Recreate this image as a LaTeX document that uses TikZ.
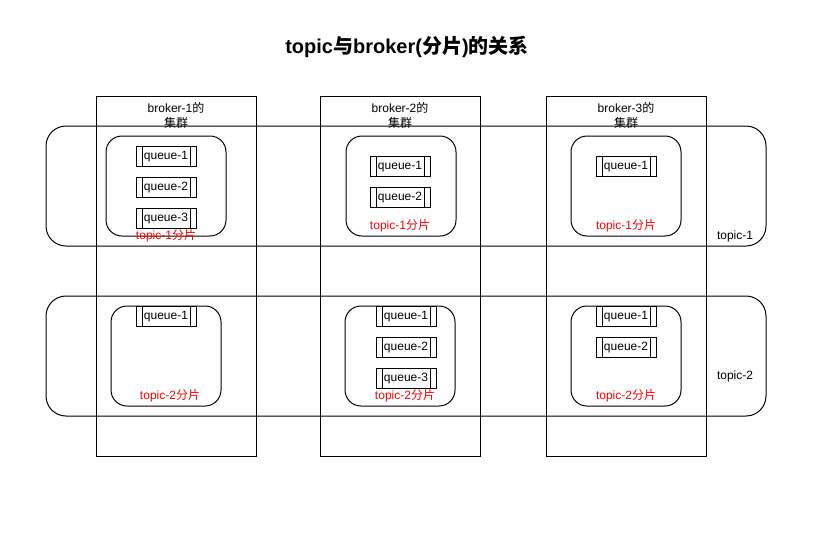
\documentclass[tikz,border=0pt]{standalone}
\usepackage{fontspec}
\setmainfont{Liberation Sans}
\newfontfamily\cjk{Noto Sans CJK SC}
\usetikzlibrary{positioning}
\newcommand{\zh}[1]{{\cjk #1}}
\definecolor{shardred}{rgb}{1,0,0}

\begin{document}
\begin{tikzpicture}[x=1pt, y=-1pt, line width=1pt,
    every node/.style={font=\fontsize{12}{15}\selectfont, inner sep=0pt},
    brokerbox/.style={draw, minimum width=160pt, minimum height=360pt},
    topicbox/.style={draw, rounded corners=20pt, minimum width=720pt, minimum height=120pt},
    shardbox/.style={draw, rounded corners=16pt, minimum width=110pt, minimum height=100pt},
    queuebox/.style={draw, fill=white, minimum width=60pt, minimum height=20pt, text height=9pt, text depth=2pt,
      path picture={
        \draw ([xshift=6pt]path picture bounding box.north west) -- ([xshift=6pt]path picture bounding box.south west);
        \draw ([xshift=-6pt]path picture bounding box.north east) -- ([xshift=-6pt]path picture bounding box.south east);}},
    shardlbl/.style={text=shardred}]

      \useasboundingbox (0,0) rectangle (813,533);

      \node [font=\fontsize{20}{24}\selectfont\bfseries] at (407,47) (title) {topic\zh{与}broker(\zh{分片})\zh{的关系}};

      % topics and brokers
      \node [topicbox] at (406,186) (t1) {};
      \node [topicbox] at (406,356) (t2) {};
      \node [] at (735,236) (t1lbl) {topic-1};
      \node [] at (735,376) (t2lbl) {topic-2};

      \node [brokerbox] at (176,276) (b1) {};
      \node [brokerbox] at (400,276) (b2) {};
      \node [brokerbox] at (626,276) (b3) {};
      \node [align=center, below=6pt of b1.north] (b1lbl) {broker-1\zh{的}\\\zh{集群}};
      \node [align=center, below=6pt of b2.north] (b2lbl) {broker-2\zh{的}\\\zh{集群}};
      \node [align=center, below=6pt of b3.north] (b3lbl) {broker-3\zh{的}\\\zh{集群}};

      % topic-1 shards
      \node [shardbox, minimum width=120pt] at (166,186) (s11) {};
      \node [shardbox] at (401,186) (s21) {};
      \node [shardbox] at (626,186) (s31) {};

      \node [queuebox] at (166,156) (q111) {queue-1};
      \node [queuebox, below=10pt of q111] (q112) {queue-2};
      \node [queuebox, below=10pt of q112] (q113) {queue-3};
      \node [queuebox] at (400,166) (q211) {queue-1};
      \node [queuebox, below=10pt of q211] (q212) {queue-2};
      \node [queuebox] at (626,166) (q311) {queue-1};

      \node [shardlbl] at (166,236) (s11lbl) {topic-1\zh{分片}};
      \node [shardlbl] at (400,226) (s21lbl) {topic-1\zh{分片}};
      \node [shardlbl] at (626,226) (s31lbl) {topic-1\zh{分片}};

      % topic-2 shards
      \node [shardbox] at (166,356) (s12) {};
      \node [shardbox] at (400,356) (s22) {};
      \node [shardbox] at (626,356) (s32) {};

      \node [queuebox] at (166,316) (q121) {queue-1};
      \node [queuebox] at (406,316) (q221) {queue-1};
      \node [queuebox, below=10pt of q221] (q222) {queue-2};
      \node [queuebox, below=10pt of q222] (q223) {queue-3};
      \node [queuebox] at (626,316) (q321) {queue-1};
      \node [queuebox, below=10pt of q321] (q322) {queue-2};

      \node [shardlbl] at (170,396) (s12lbl) {topic-2\zh{分片}};
      \node [shardlbl] at (405,396) (s22lbl) {topic-2\zh{分片}};
      \node [shardlbl] at (626,396) (s32lbl) {topic-2\zh{分片}};
    \end{tikzpicture}
\end{document}
